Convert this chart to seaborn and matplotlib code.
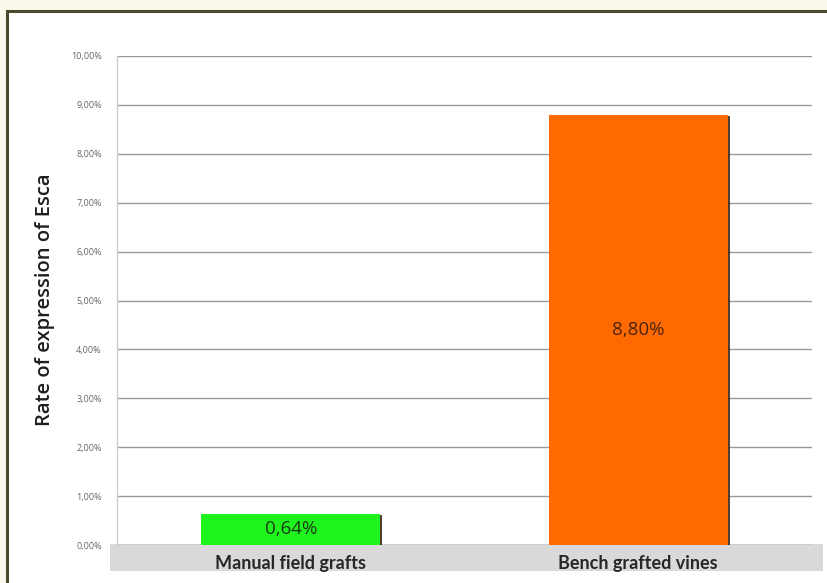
import matplotlib
matplotlib.use("Agg")
import matplotlib.pyplot as plt
import matplotlib.patheffects as pe
from matplotlib.patches import Rectangle
from matplotlib.ticker import FuncFormatter, MultipleLocator
import seaborn as sns

# Rate of expression of Esca by grafting method
categories = ["Manual field grafts", "Bench grafted vines"]
rates = [0.0064, 0.0880]
bar_colors = ["#1ef31e", "#ff6a00"]
label_colors = ["#1c3a14", "#4a2410"]
y_label = "Rate of expression of Esca"

sns.set_theme(style="white")
plt.rcParams["font.family"] = ["Open Sans", "DejaVu Sans"]

W, H = 827, 583
fig = plt.figure(figsize=(W / 100, H / 100), dpi=100)
fig.patch.set_facecolor("#fbf8ec")

# white panel with olive frame
fig.patches.append(Rectangle((7 / W, -0.05), 1.05, 1 - 11 / H + 0.05,
                             transform=fig.transFigure, facecolor="white",
                             edgecolor="#4b4a2c", linewidth=2.2, zorder=0))

# gray band behind category labels
fig.patches.append(Rectangle((110 / W, 1 - 571 / H), (823 - 110) / W, (571 - 544) / H,
                             transform=fig.transFigure, facecolor="#d9d9d9",
                             edgecolor="none", zorder=1))

ax = fig.add_axes([117 / W, 1 - 545 / H, (812 - 117) / W, (545 - 56) / H])
ax.set_facecolor("none")
ax.set_zorder(5)

sns.barplot(x=categories, y=rates, hue=categories, palette=bar_colors,
            width=0.515, legend=False, ax=ax, saturation=1, zorder=3)

for patch in ax.patches:
    patch.set_edgecolor("none")
    patch.set_path_effects([pe.SimplePatchShadow(offset=(1.6, -0.6), shadow_rgbFace="#3a2a1a", alpha=0.9),
                            pe.Normal()])

for cont, col in zip(ax.containers, label_colors):
    ax.bar_label(cont, labels=[f"{v * 100:.2f}".replace(".", ",") + "%" for v in cont.datavalues],
                 label_type="center", fontsize=13.5, color=col)

ax.set_ylim(0, 0.10)
ax.set_xlim(-0.5, 1.5)
ax.yaxis.set_major_locator(MultipleLocator(0.01))
ax.yaxis.set_major_formatter(FuncFormatter(lambda v, p: f"{v * 100:.2f}".replace(".", ",") + "%"))
ax.grid(axis="y", color="#9a9a9a", linewidth=1.0, zorder=0)
ax.set_axisbelow(True)
for s in ["top", "right", "bottom"]:
    ax.spines[s].set_visible(False)
ax.spines["left"].set_color("#cfcfcf")
ax.spines["left"].set_linewidth(1.0)
ax.tick_params(axis="y", labelsize=6.5, colors="#666666", length=0, pad=11)
ax.tick_params(axis="x", length=0, pad=7)
for lbl in ax.get_xticklabels():
    lbl.set_fontsize(13)
    lbl.set_fontfamily(["Lato", "DejaVu Sans"])
    lbl.set_fontweight("bold")
    lbl.set_color("#262626")
ax.set_xlabel("")

fig.text(45 / W, 1 - 300 / H, y_label, rotation=90, ha="center", va="center",
         fontsize=14.5, fontweight="semibold", color="#1e1e1e", zorder=6)

fig.savefig("out.png", dpi=100, facecolor=fig.get_facecolor())
